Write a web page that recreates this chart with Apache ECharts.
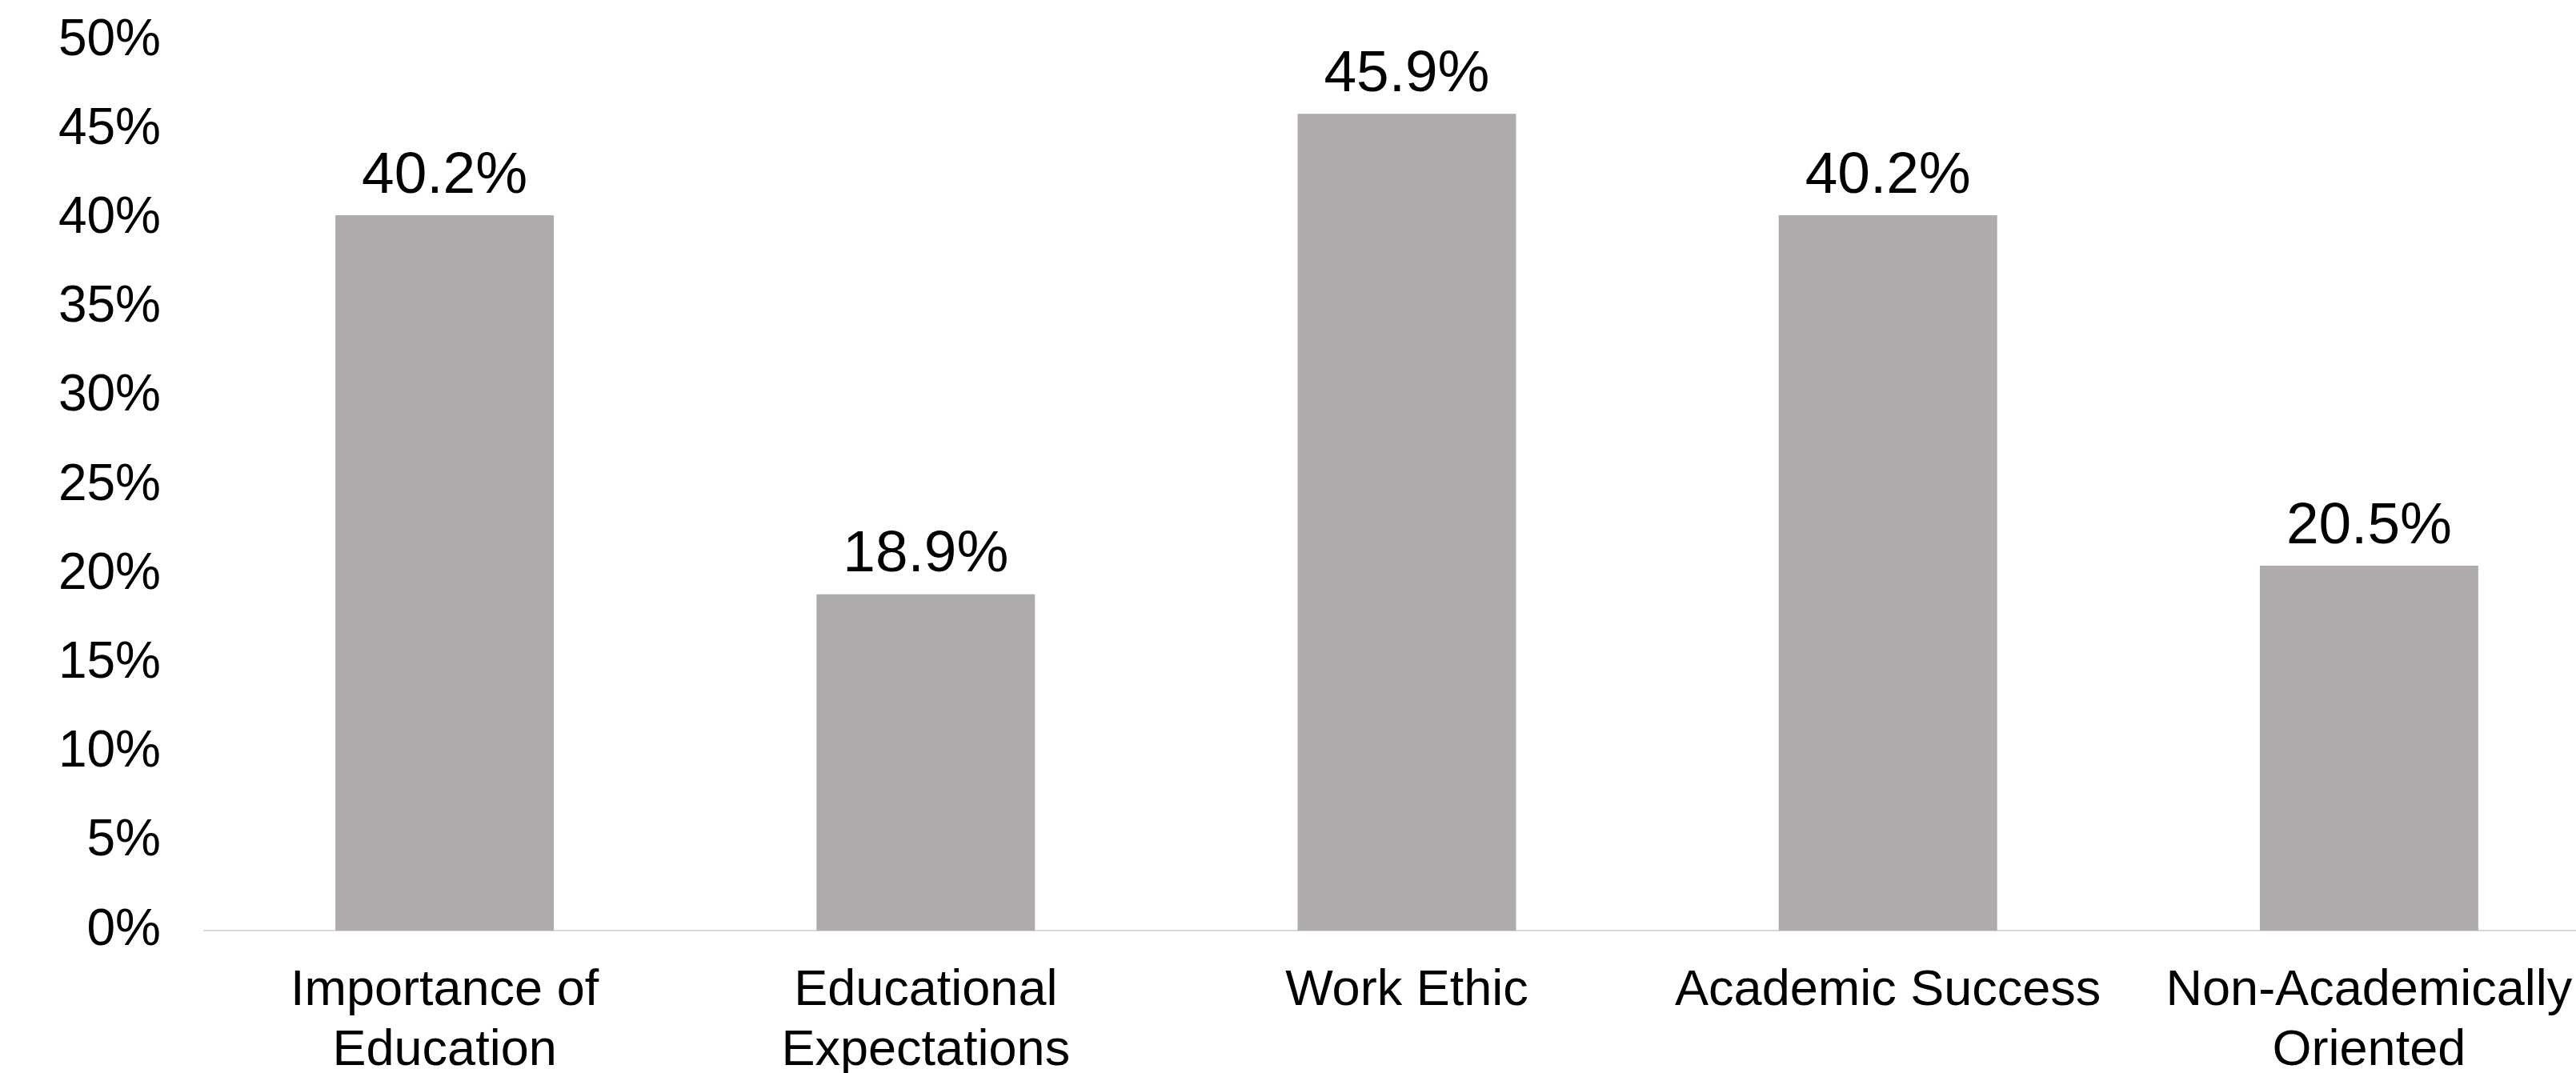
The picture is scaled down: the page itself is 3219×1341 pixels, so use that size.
<!DOCTYPE html>
<html>
<head>
<meta charset="utf-8">
<script src="https://cdn.jsdelivr.net/npm/echarts@6/dist/echarts.min.js"></script>
<style>
  html, body { margin: 0; padding: 0; background: #fff; }
  #main { width: 3219px; height: 1341px; }
</style>
</head>
<body>
<div id="main"></div>
<script>
var categories = ['Importance of\nEducation', 'Educational\nExpectations', 'Work Ethic', 'Academic Success', 'Non-Academically\nOriented'];
var values = [40.2, 18.9, 45.9, 40.2, 20.5];

var chart = echarts.init(document.getElementById('main'));
var font = 'Liberation Sans, Arial, sans-serif';

var option = {
    animation: false,
    backgroundColor: '#ffffff',
    // plot runs past the right edge, like the original crop
    grid: {
        left: 255,
        width: 3006,
        top: 51,
        height: 1112,
        containLabel: false,
        outerBoundsMode: 'none'
    },
    xAxis: {
        type: 'category',
        data: categories,
        axisLine: { lineStyle: { color: '#d9d9d9', width: 2 } },
        axisTick: { show: false },
        axisLabel: {
            interval: 0,
            margin: 38,
            color: '#000',
            fontFamily: font,
            fontSize: 63,
            lineHeight: 75
        }
    },
    yAxis: {
        type: 'value',
        min: 0,
        max: 50,
        interval: 5,
        splitLine: { show: false },
        axisLine: { show: false },
        axisTick: { show: false },
        axisLabel: {
            margin: 54,
            color: '#000',
            fontFamily: font,
            fontSize: 64,
            formatter: '{value}%'
        }
    },
    series: [{
        type: 'bar',
        data: values,
        barWidth: '45.4%',
        itemStyle: { color: '#afabab' },
        label: {
            show: true,
            position: 'top',
            distance: 12,
            color: '#000',
            fontFamily: font,
            fontSize: 73,
            formatter: function (p) { return p.value.toFixed(1) + '%'; }
        }
    }]
};

chart.setOption(option);
</script>
</body>
</html>
